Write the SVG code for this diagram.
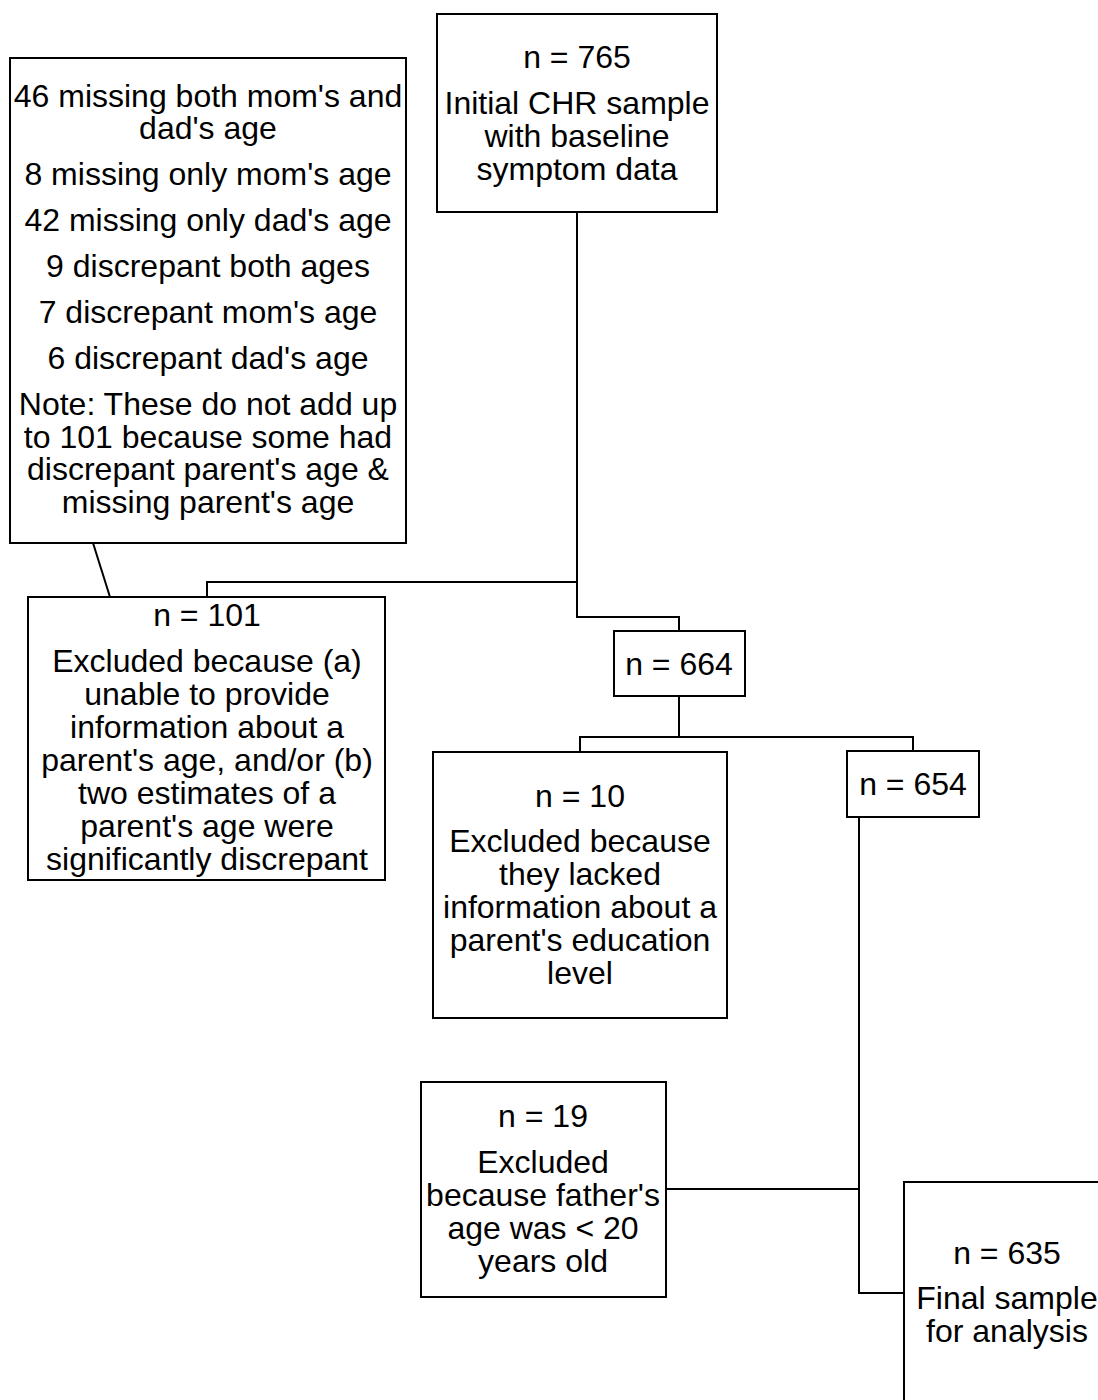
<svg xmlns="http://www.w3.org/2000/svg" width="1098" height="1400" viewBox="0 0 1098 1400">
<style>
.box{fill:#fff;stroke:#000;stroke-width:2}
.ln{fill:none;stroke:#000;stroke-width:2}
text{font-family:"Liberation Sans",Arial,sans-serif;font-size:32px;fill:#000;text-anchor:middle}
</style>
<rect width="1098" height="1400" fill="#fff"/>
<g id="connectors">
<polyline class="ln" points="577,212 577,617 679,617 679,631"/>
<polyline class="ln" points="577,582 207,582 207,597"/>
<line class="ln" x1="93" y1="543" x2="110" y2="597"/>
<polyline class="ln" points="679,696 679,737"/>
<polyline class="ln" points="580,752 580,737 913,737 913,751"/>
<polyline class="ln" points="859,817 859,1293 904,1293"/>
<line class="ln" x1="666" y1="1189" x2="859" y2="1189"/>
</g>
<g id="notes">
<rect class="box" x="10" y="58" width="396" height="485"/>
<text x="208" y="107">46 missing both mom's and</text>
<text x="208" y="139">dad's age</text>
<text x="208" y="185">8 missing only mom's age</text>
<text x="208" y="231">42 missing only dad's age</text>
<text x="208" y="277">9 discrepant both ages</text>
<text x="208" y="323">7 discrepant mom's age</text>
<text x="208" y="369">6 discrepant dad's age</text>
<text x="208" y="415">Note: These do not add up</text>
<text x="208" y="448">to 101 because some had</text>
<text x="208" y="480">discrepant parent's age &amp;</text>
<text x="208" y="513">missing parent's age</text>
</g>
<g id="n765">
<rect class="box" x="437" y="14" width="280" height="198"/>
<text x="577" y="68">n = 765</text>
<text x="577" y="114">Initial CHR sample</text>
<text x="577" y="147">with baseline</text>
<text x="577" y="180">symptom data</text>
</g>
<g id="n101">
<rect class="box" x="28" y="597" width="357" height="283"/>
<text x="207" y="626">n = 101</text>
<text x="207" y="672">Excluded because (a)</text>
<text x="207" y="705">unable to provide</text>
<text x="207" y="738">information about a</text>
<text x="207" y="771">parent's age, and/or (b)</text>
<text x="207" y="804">two estimates of a</text>
<text x="207" y="837">parent's age were</text>
<text x="207" y="870">significantly discrepant</text>
</g>
<g id="n664">
<rect class="box" x="614" y="631" width="131" height="65"/>
<text x="679" y="675">n = 664</text>
</g>
<g id="n10">
<rect class="box" x="433" y="752" width="294" height="266"/>
<text x="580" y="807">n = 10</text>
<text x="580" y="852">Excluded because</text>
<text x="580" y="885">they lacked</text>
<text x="580" y="918">information about a</text>
<text x="580" y="951">parent's education</text>
<text x="580" y="984">level</text>
</g>
<g id="n654">
<rect class="box" x="847" y="751" width="132" height="66"/>
<text x="913" y="795">n = 654</text>
</g>
<g id="n19">
<rect class="box" x="421" y="1082" width="245" height="215"/>
<text x="543" y="1127">n = 19</text>
<text x="543" y="1173">Excluded</text>
<text x="543" y="1206">because father's</text>
<text x="543" y="1239">age was &lt; 20</text>
<text x="543" y="1272">years old</text>
</g>
<g id="n635">
<rect class="box" x="904" y="1182" width="206" height="230"/>
<text x="1007" y="1264">n = 635</text>
<text x="1007" y="1309">Final sample</text>
<text x="1007" y="1342">for analysis</text>
</g>
</svg>
